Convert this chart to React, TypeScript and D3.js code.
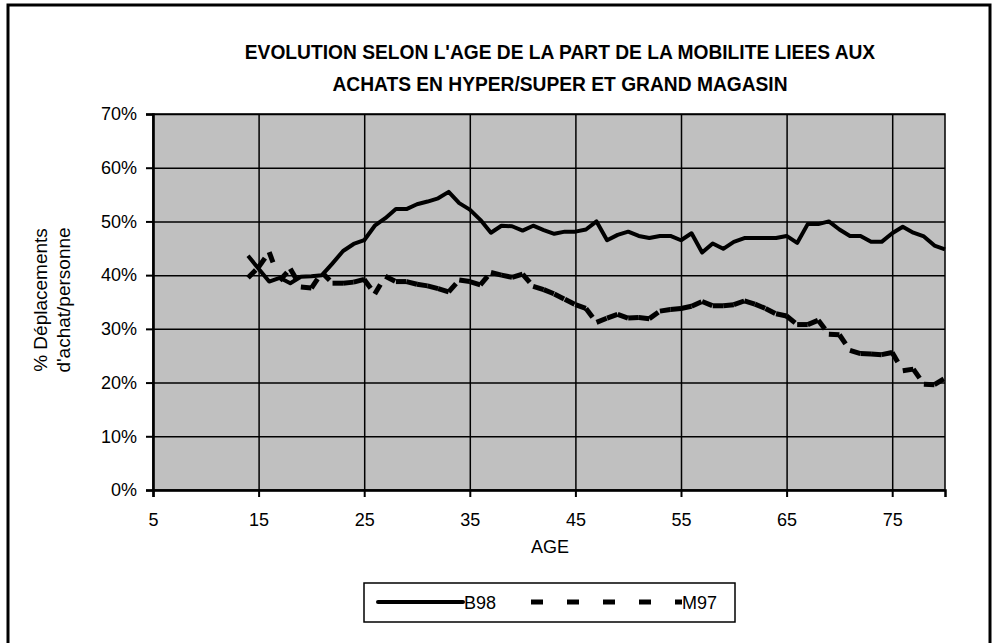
import React, { useRef, useEffect } from 'react';
import * as d3 from 'd3';

const ages = [
  14, 15, 16, 17, 18, 19, 20, 21, 22, 23, 24, 25, 26, 27, 28, 29, 30, 31, 32, 33,
  34, 35, 36, 37, 38, 39, 40, 41, 42, 43, 44, 45, 46, 47, 48, 49, 50, 51, 52, 53,
  54, 55, 56, 57, 58, 59, 60, 61, 62, 63, 64, 65, 66, 67, 68, 69, 70, 71, 72, 73,
  74, 75, 76, 77, 78, 79, 80,
];

// % of trips for shopping, per age
const b98 = [
  43.6, 41.2, 38.8, 39.5, 38.5, 39.7, 39.8, 40.0, 42.2, 44.5, 45.8, 46.5, 49.2, 50.6, 52.3, 52.3, 53.2, 53.7, 54.3, 55.5,
  53.4, 52.2, 50.3, 47.9, 49.2, 49.1, 48.3, 49.2, 48.4, 47.7, 48.1, 48.1, 48.5, 50.0, 46.5, 47.5, 48.1, 47.3, 46.9, 47.3,
  47.3, 46.5, 47.8, 44.2, 45.9, 44.9, 46.2, 46.9, 46.9, 46.9, 46.9, 47.3, 46.0, 49.5, 49.5, 50.0, 48.5, 47.3, 47.3, 46.2,
  46.2, 47.8, 49.0, 47.9, 47.2, 45.5, 44.8,
];

const m97 = [
  39.5, 41.5, 44.3, 39.0, 41.2, 37.8, 37.6, 40.5, 38.5, 38.5, 38.7, 39.2, 36.5, 39.8, 38.8, 38.8, 38.3, 38.0, 37.5, 36.9,
  39.1, 38.8, 38.2, 40.5, 40.0, 39.6, 40.2, 37.9, 37.3, 36.5, 35.5, 34.5, 33.8, 31.2, 32.0, 32.7, 32.0, 32.1, 31.9, 33.3,
  33.6, 33.8, 34.2, 35.1, 34.3, 34.3, 34.5, 35.2, 34.6, 33.8, 32.8, 32.4, 30.8, 30.8, 31.6, 29.0, 28.9, 26.0, 25.4, 25.3,
  25.2, 25.6, 22.2, 22.5, 19.7, 19.6, 20.8,
];

const xTicks = [5, 15, 25, 35, 45, 55, 65, 75];
const yTicks = [0, 10, 20, 30, 40, 50, 60, 70];
const titleLines = [
  "EVOLUTION SELON L'AGE DE LA PART DE LA MOBILITE LIEES AUX",
  'ACHATS EN HYPER/SUPER ET GRAND MAGASIN',
];
const yTitleLines = ['% Déplacements', "d'achat/personne"];
const seriesNames = ['B98', 'M97'];

const FONT = 'Arial, "Liberation Sans", sans-serif';

function App() {
  const svgRef = useRef<SVGSVGElement>(null);

  useEffect(() => {
    const margin = { left: 153, top: 114, right: 53, bottom: 153 };
    const width = 998 - margin.left - margin.right;
    const height = 643 - margin.top - margin.bottom;

    const x = d3.scaleLinear().domain([5, 80]).range([0, width]);
    const y = d3.scaleLinear().domain([0, 70]).range([height, 0]);

    const svgEl = d3.select(svgRef.current);
    svgEl.selectAll('*').remove();

    // outer frame
    svgEl.append('rect')
      .attr('x', 8).attr('y', 5).attr('width', 982).attr('height', 700)
      .attr('fill', 'white').attr('stroke', 'black').attr('stroke-width', 3);

    // title, slightly condensed like the original
    svgEl.append('g')
      .selectAll('text')
      .data(titleLines)
      .enter()
      .append('text')
      .attr('font-family', FONT).attr('font-weight', 'bold').attr('font-size', 20)
      .attr('text-anchor', 'middle')
      .attr('x', 560)
      .attr('y', (d, i) => 59 + i * 32)
      .each(function () {
        const el = this as SVGTextElement;
        const natural = el.getComputedTextLength();
        el.setAttribute('textLength', String(natural * 0.96));
        el.setAttribute('lengthAdjust', 'spacingAndGlyphs');
      })
      .text((d) => d)
      .each(function () {
        const el = this as SVGTextElement;
        el.removeAttribute('textLength');
        const natural = el.getComputedTextLength();
        el.setAttribute('textLength', String(natural * 0.96));
        el.setAttribute('lengthAdjust', 'spacingAndGlyphs');
      });

    const svg = svgEl.append('g').attr('transform', `translate(${margin.left},${margin.top})`);

    svg.append('rect').attr('width', width).attr('height', height).attr('fill', '#c0c0c0');

    // gridlines
    const xGrid = svg.append('g').call(d3.axisBottom(x).tickValues(xTicks).tickSize(-height).tickFormat(() => ''))
      .attr('transform', `translate(0,${height})`);
    xGrid.select('.domain').remove();
    xGrid.selectAll('line').attr('stroke', 'black').attr('stroke-width', 1.5);

    const yGrid = svg.append('g').call(d3.axisLeft(y).tickValues(yTicks).tickSize(-width).tickFormat(() => ''));
    yGrid.select('.domain').remove();
    yGrid.selectAll('line').attr('stroke', 'black').attr('stroke-width', 1.5);

    // plot border
    svg.append('rect').attr('width', width).attr('height', height)
      .attr('fill', 'none').attr('stroke', 'black').attr('stroke-width', 1.5);

    // axes
    const xAxisGroup = svg.append('g')
      .attr('transform', `translate(0,${height})`)
      .call(d3.axisBottom(x).tickValues(xTicks).tickSize(7).tickPadding(16));
    xAxisGroup.select('.domain').attr('stroke', 'black').attr('stroke-width', 2.5);
    xAxisGroup.selectAll('line').attr('stroke', 'black').attr('stroke-width', 2);
    xAxisGroup.selectAll('text').attr('font-family', FONT).attr('font-size', 18).attr('fill', 'black');

    const yAxisGroup = svg.append('g')
      .call(d3.axisLeft(y).tickValues(yTicks).tickSize(7).tickPadding(9).tickFormat((d) => `${d}%`));
    yAxisGroup.select('.domain').attr('stroke', 'black').attr('stroke-width', 2.5);
    yAxisGroup.selectAll('line').attr('stroke', 'black').attr('stroke-width', 2);
    yAxisGroup.selectAll('text').attr('font-family', FONT).attr('font-size', 18).attr('fill', 'black');

    svg.append('text')
      .attr('x', width / 2 + 1).attr('y', height + 63)
      .attr('text-anchor', 'middle')
      .attr('font-family', FONT).attr('font-size', 18)
      .text('AGE');

    svgEl.append('text')
      .attr('transform', 'translate(0,300) rotate(-90)')
      .attr('text-anchor', 'middle')
      .attr('font-family', FONT).attr('font-size', 19)
      .selectAll('tspan')
      .data(yTitleLines)
      .enter()
      .append('tspan')
      .attr('x', 0)
      .attr('y', (d, i) => 47 + i * 23)
      .text((d) => d);

    // B98 solid
    const line = d3.line<number>().x((d, i) => x(ages[i])).y((d) => y(d));
    svg.append('path')
      .attr('d', line(b98))
      .attr('fill', 'none').attr('stroke', 'black').attr('stroke-width', 4)
      .attr('stroke-linejoin', 'round');

    // M97 dashed, pattern restarts on every segment
    svg.append('g')
      .selectAll('line')
      .data(m97.slice(1))
      .enter()
      .append('line')
      .attr('x1', (d, i) => x(ages[i]))
      .attr('y1', (d, i) => y(m97[i]))
      .attr('x2', (d, i) => x(ages[i + 1]))
      .attr('y2', (d) => y(d))
      .attr('stroke', 'black').attr('stroke-width', 5)
      .attr('stroke-dasharray', '11 30');

    // legend
    const legend = svgEl.append('g').attr('transform', 'translate(364,583)');
    legend.append('rect').attr('width', 371).attr('height', 39)
      .attr('fill', 'white').attr('stroke', 'black').attr('stroke-width', 1.5);
    legend.append('line')
      .attr('x1', 14).attr('x2', 99).attr('y1', 19).attr('y2', 19)
      .attr('stroke', 'black').attr('stroke-width', 4).attr('stroke-linecap', 'round');
    legend.append('line')
      .attr('x1', 167).attr('x2', 318).attr('y1', 19).attr('y2', 19)
      .attr('stroke', 'black').attr('stroke-width', 5).attr('stroke-dasharray', '12 24');
    legend.selectAll('.lbl')
      .data(seriesNames)
      .enter()
      .append('text')
      .attr('x', (d, i) => (i === 0 ? 100 : 318))
      .attr('y', 26)
      .attr('font-family', FONT).attr('font-size', 18)
      .text((d) => d);
  }, []);

  return (
    <svg
      ref={svgRef}
      width={998}
      height={643}
      style={{ position: 'absolute', left: 0, top: 0, background: 'white' }}
    />
  );
}

export default App;
